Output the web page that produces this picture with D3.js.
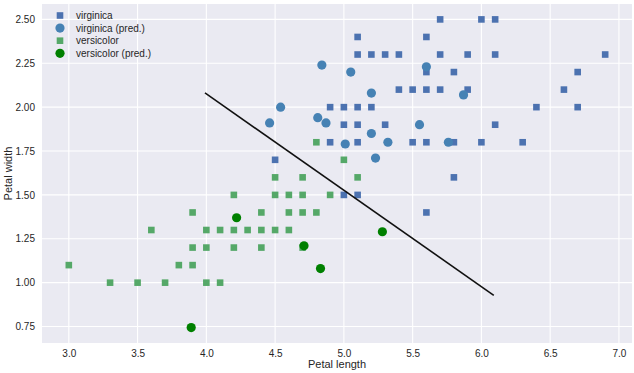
<!DOCTYPE html>
<html>
<head>
<meta charset="utf-8">
<script src="https://cdn.jsdelivr.net/npm/d3@7"></script>
<style>
  html, body { margin: 0; padding: 0; background: #fff; }
  svg { display: block; }
  text { font-family: "Liberation Sans", Arial, sans-serif; fill: #262626; }
</style>
</head>
<body>
<svg id="chart" width="634" height="373"></svg>
<script>
// ---- data ----
const virginica = [
  [5.7,2.5],[6.0,2.5],[6.1,2.5],
  [5.1,2.4],[5.6,2.4],
  [5.1,2.3],[5.2,2.3],[5.3,2.3],[5.4,2.3],[5.7,2.3],[5.9,2.3],[6.1,2.3],[6.9,2.3],
  [5.6,2.2],[5.8,2.2],[6.7,2.2],
  [5.4,2.1],[5.5,2.1],[5.6,2.1],[5.7,2.1],[5.9,2.1],[6.6,2.1],
  [4.9,2.0],[5.0,2.0],[5.1,2.0],[5.2,2.0],[6.4,2.0],[6.7,2.0],
  [5.0,1.9],[5.1,1.9],[5.3,1.9],[6.1,1.9],
  [4.9,1.8],[5.1,1.8],[5.5,1.8],[5.6,1.8],[5.8,1.8],[6.0,1.8],[6.3,1.8],
  [4.5,1.7],
  [5.8,1.6],
  [5.0,1.5],[5.1,1.5],
  [5.6,1.4]
];
const virginicaPred = [
  [4.84,2.24],[5.05,2.20],[5.60,2.23],[5.20,2.08],[5.87,2.07],
  [4.54,2.00],[4.46,1.91],[4.81,1.94],[4.87,1.91],[5.55,1.90],
  [5.20,1.85],[5.01,1.79],[5.32,1.80],[5.76,1.80],[5.23,1.71]
];
const versicolor = [
  [4.8,1.8],
  [5.0,1.7],
  [4.5,1.6],[4.7,1.6],[5.1,1.6],
  [4.2,1.5],[4.5,1.5],[4.6,1.5],[4.7,1.5],[4.9,1.5],
  [3.9,1.4],[4.4,1.4],[4.6,1.4],[4.7,1.4],[4.8,1.4],
  [3.6,1.3],[4.0,1.3],[4.1,1.3],[4.2,1.3],[4.3,1.3],[4.4,1.3],[4.5,1.3],[4.6,1.3],
  [3.9,1.2],[4.0,1.2],[4.2,1.2],[4.4,1.2],[4.7,1.2],
  [3.0,1.1],[3.8,1.1],[3.9,1.1],
  [3.3,1.0],[3.5,1.0],[3.7,1.0],[4.0,1.0],[4.1,1.0]
];
const versicolorPred = [
  [4.22,1.37],[5.28,1.29],[4.71,1.21],[4.83,1.08],[3.89,0.744]
];
const boundary = [[3.99,2.081],[6.09,0.928]];
const xTicks = [3.0,3.5,4.0,4.5,5.0,5.5,6.0,6.5,7.0];
const yTicks = [0.75,1.00,1.25,1.50,1.75,2.00,2.25,2.50];
const legendLabels = ["virginica","virginica (pred.)","versicolor","versicolor (pred.)"];

// ---- layout ----
const svg = d3.select("#chart");
const L = 42, R = 632, T = 4, B = 343;

const all = virginica.concat(virginicaPred, versicolor, versicolorPred);
const xe = d3.extent(all, d => d[0]);
const ye = d3.extent(all, d => d[1]);
const xp = (xe[1]-xe[0])*0.05, yp = (ye[1]-ye[0])*0.05;
const x = d3.scaleLinear().domain([xe[0]-xp, xe[1]+xp]).range([L, R]);
const y = d3.scaleLinear().domain([ye[0]-yp, ye[1]+yp]).range([B, T]);

svg.append("rect").attr("x", L).attr("y", T).attr("width", R-L).attr("height", B-T).attr("fill", "#EAEAF2");

// grid
const g = svg.append("g");
g.selectAll(".vx").data(xTicks).enter().append("line")
  .attr("x1", d => x(d)).attr("x2", d => x(d)).attr("y1", T).attr("y2", B)
  .attr("stroke", "#fff").attr("stroke-width", 1.1);
g.selectAll(".hy").data(yTicks).enter().append("line")
  .attr("y1", d => y(d)).attr("y2", d => y(d)).attr("x1", L).attr("x2", R)
  .attr("stroke", "#fff").attr("stroke-width", 1.1);

// axes (labels only)
const xAxis = d3.axisBottom(x).tickValues(xTicks).tickFormat(d3.format(".1f")).tickSize(0).tickPadding(5);
const xg = svg.append("g").attr("transform", `translate(0,${B})`).call(xAxis);
xg.select(".domain").remove();
xg.selectAll("text").attr("font-size", 10).attr("fill", "#333").attr("dy", "0.9em");

const yAxis = d3.axisLeft(y).tickValues(yTicks).tickFormat(d3.format(".2f")).tickSize(0).tickPadding(7);
const yg = svg.append("g").attr("transform", `translate(${L},0)`).call(yAxis);
yg.select(".domain").remove();
yg.selectAll("text").attr("font-size", 10).attr("fill", "#333");

svg.append("text").attr("x", (L+R)/2).attr("y", 368).attr("text-anchor", "middle")
  .attr("font-size", 11).text("Petal length");
svg.append("text").attr("transform", `translate(12,${(T+B)/2}) rotate(-90)`)
  .attr("text-anchor", "middle").attr("font-size", 11).text("Petal width");

// marks
const sq = 6.6;
function squares(data, color) {
  svg.append("g").selectAll("rect").data(data).enter().append("rect")
    .attr("x", d => x(d[0]) - sq/2).attr("y", d => y(d[1]) - sq/2)
    .attr("width", sq).attr("height", sq).attr("fill", color);
}
function circles(data, color) {
  svg.append("g").selectAll("circle").data(data).enter().append("circle")
    .attr("cx", d => x(d[0])).attr("cy", d => y(d[1])).attr("r", 4.6).attr("fill", color);
}
squares(virginica, "#4C72B0");
squares(versicolor, "#55A868");
circles(virginicaPred, "#4682B4");
circles(versicolorPred, "#008000");

svg.append("path").datum(boundary)
  .attr("d", d3.line().x(d => x(d[0])).y(d => y(d[1])))
  .attr("stroke", "#111").attr("stroke-width", 1.6).attr("fill", "none");

// legend
const lg = svg.append("g");
const legendMarks = [
  {t: "s", c: "#4C72B0"}, {t: "c", c: "#4682B4"}, {t: "s", c: "#55A868"}, {t: "c", c: "#008000"}
];
legendLabels.forEach((lab, i) => {
  const yy = 15.5 + i * 12.6;
  const m = legendMarks[i];
  if (m.t === "s") {
    lg.append("rect").attr("x", 60 - sq/2).attr("y", yy - sq/2).attr("width", sq).attr("height", sq).attr("fill", m.c);
  } else {
    lg.append("circle").attr("cx", 60).attr("cy", yy).attr("r", 4.6).attr("fill", m.c);
  }
  lg.append("text").attr("x", 76).attr("y", yy).attr("dy", "0.35em").attr("font-size", 10).text(lab);
});
</script>
</body>
</html>
